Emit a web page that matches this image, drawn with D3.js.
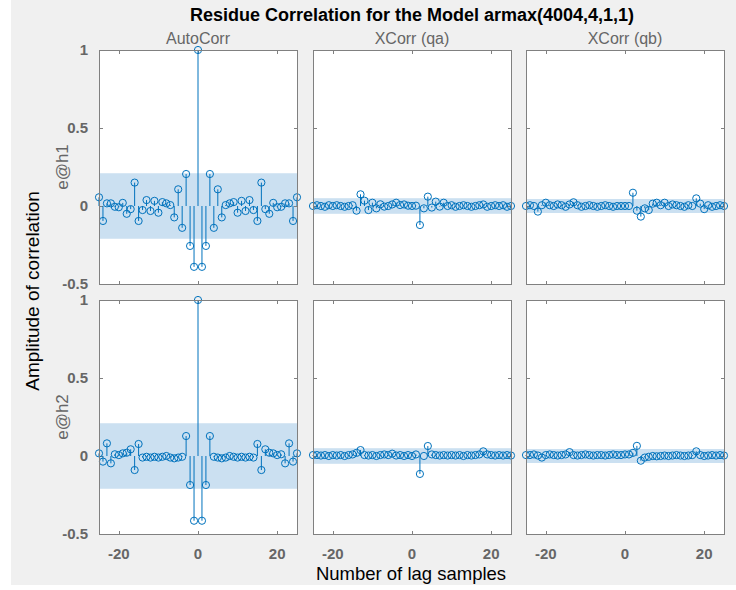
<!DOCTYPE html>
<html>
<head>
<meta charset="utf-8">
<script src="https://cdn.jsdelivr.net/npm/d3@7"></script>
<style>
  body { margin: 0; background: #fff; }
  text { font-family: "Liberation Sans", Arial, sans-serif; }
</style>
</head>
<body>
<script>
const lags = d3.range(-25, 26);
const rowNames = ["e@h1", "e@h2"];
const colNames = ["AutoCorr", "XCorr (qa)", "XCorr (qb)"];
const yTicks = [-0.5, 0, 0.5, 1];
const xTicks = [-20, 0, 20];

// residue correlations, lag -25 .. 25
const autoH1 = [0.056, -0.096, 0.017, 0.017, -0.005, -0.008, 0.02, -0.05, -0.02, 0.15, -0.096, -0.026, 0.038, -0.032, 0.033, -0.043, 0.025, 0.017, 0.006, -0.073, 0.107, -0.14, 0.205, -0.256, -0.39,
  1,
  -0.39, -0.256, 0.205, -0.14, 0.107, -0.073, 0.006, 0.017, 0.025, -0.043, 0.033, -0.032, 0.038, -0.026, -0.096, 0.15, -0.02, -0.05, 0.02, -0.008, -0.005, 0.017, 0.017, -0.096, 0.056];
const xqaH1 = [0.0, 0.005, 0.0, -0.005, 0.005, 0.0, 0.005, 0.0, -0.005, 0.0, 0.005, -0.03, 0.075, 0.034, -0.026, 0.021, -0.015, 0.011, -0.004, 0.0, 0.01, 0.021, 0.006, 0.01, 0.002,
  0.0,
  0.002, -0.122, -0.015, 0.06, -0.01, 0.028, -0.004, 0.021, 0.0, 0.005, -0.005, 0.0, 0.005, 0.0, -0.005, 0.0, 0.005, 0.01, -0.005, 0.0, 0.005, 0.0, 0.005, -0.005, 0.0];
const xqbH1 = [0.0, 0.005, 0.0, -0.036, 0.005, 0.021, 0.005, 0.0, 0.01, 0.005, -0.005, 0.01, 0.024, 0.005, -0.005, 0.0, 0.005, 0.0, -0.005, 0.0, 0.005, 0.0, -0.005, 0.0, 0.0,
  0.0,
  0.0, 0.085, -0.03, -0.068, -0.015, -0.026, 0.015, 0.021, 0.005, 0.021, 0.0, 0.01, 0.005, 0.0, -0.005, 0.005, 0.0, 0.049, 0.015, -0.02, 0.005, -0.005, 0.0, 0.005, 0.0];
const autoH2 = [0.017, -0.036, 0.081, -0.047, 0.011, 0.006, 0.017, 0.021, 0.043, -0.09, 0.077, -0.01, -0.005, -0.01, -0.005, -0.01, -0.005, 0.0, -0.01, -0.015, -0.01, -0.005, 0.128, -0.186, -0.415,
  1,
  -0.415, -0.186, 0.128, -0.005, -0.01, -0.015, -0.01, 0.0, -0.005, -0.01, -0.005, -0.01, -0.005, -0.01, 0.077, -0.09, 0.043, 0.021, 0.017, 0.006, 0.011, -0.047, 0.081, -0.036, 0.017];
const xqaH2 = [0.006, 0.006, 0.003, 0.006, 0.0, 0.006, 0.003, 0.006, 0.0, 0.006, 0.01, 0.02, 0.038, 0.006, 0.003, 0.006, 0.0, 0.006, 0.01, 0.006, 0.015, 0.003, 0.006, 0.0, 0.006,
  0.0,
  0.01, -0.115, 0.0, 0.064, 0.01, 0.006, 0.003, 0.006, 0.003, 0.006, 0.003, 0.006, 0.0, 0.006, 0.003, 0.006, 0.01, 0.03, 0.01, 0.006, 0.003, 0.006, 0.003, 0.006, 0.003];
const xqbH2 = [0.006, 0.006, 0.01, 0.003, -0.01, 0.006, 0.01, 0.006, 0.003, 0.006, 0.01, 0.025, 0.006, 0.003, 0.006, 0.01, 0.006, 0.003, 0.006, 0.006, 0.003, 0.006, 0.01, 0.006, 0.006,
  0.01,
  0.01, 0.02, 0.065, -0.03, -0.01, -0.005, 0.0, -0.002, 0.0, 0.003, 0.0, 0.003, 0.006, 0.003, 0.0, 0.003, 0.006, 0.03, 0.006, 0.0, 0.003, 0.006, 0.003, 0.006, 0.003];

// confidence band half widths per panel
const bandH1 = [0.21, 0.05, 0.045];
const bandH2 = [0.21, 0.05, 0.045];

const series = [[autoH1, xqaH1, xqbH1], [autoH2, xqaH2, xqbH2]];
const bands = [bandH1, bandH2];

const w = 736, h = 590;
const colX = [99, 313, 526], rowY = [50, 300];
const pw = 198, ph = 234;
const blue = "#0072BD";

const svg = d3.select("body").append("svg")
    .attr("width", w)
    .attr("height", h);

svg.append("rect")
    .attr("x", 11).attr("y", 0)
    .attr("width", w - 11).attr("height", 585)
    .attr("fill", "#f0f0f0");

rowY.forEach(function (y0, r) {
    colX.forEach(function (x0, c) {
        const x = d3.scaleLinear().domain([-25, 25]).range([x0, x0 + pw]);
        const y = d3.scaleLinear().domain([-0.5, 1]).range([y0 + ph, y0]);
        const vals = series[r][c];
        const g = svg.append("g");

        g.append("rect")
            .attr("x", x0 + 0.5).attr("y", y0 + 0.5)
            .attr("width", pw).attr("height", ph)
            .attr("fill", "#fff");

        g.append("rect")
            .attr("x", x0 + 1).attr("y", y(bands[r][c]))
            .attr("width", pw - 1)
            .attr("height", y(-bands[r][c]) - y(bands[r][c]))
            .attr("fill", "#cbe0f1");

        // ticks inside the box, all four sides
        g.selectAll(".xt").data(xTicks).enter().append("path")
            .attr("d", function (d) {
                const px = Math.round(x(d)) + 0.5;
                return "M" + px + "," + (y0 + 1) + "v3M" + px + "," + (y0 + ph) + "v-3";
            })
            .attr("stroke", "#808080");
        g.selectAll(".yt").data(yTicks).enter().append("path")
            .attr("d", function (d) {
                const py = Math.round(y(d)) + 0.5;
                return "M" + (x0 + 1) + "," + py + "h3M" + (x0 + pw) + "," + py + "h-3";
            })
            .attr("stroke", "#808080");

        g.selectAll(".stem").data(lags).enter().append("line")
            .attr("x1", function (d) { return x(d); })
            .attr("x2", function (d) { return x(d); })
            .attr("y1", y(0))
            .attr("y2", function (d, i) { return y(vals[i]); })
            .attr("stroke", blue)
            .attr("stroke-width", 1);

        g.selectAll(".mark").data(lags).enter().append("circle")
            .attr("cx", function (d) { return x(d); })
            .attr("cy", function (d, i) { return y(vals[i]); })
            .attr("r", 3.6)
            .attr("fill", "none")
            .attr("stroke", blue)
            .attr("stroke-width", 1);

        g.append("rect")
            .attr("x", x0 + 0.5).attr("y", y0 + 0.5)
            .attr("width", pw).attr("height", ph)
            .attr("fill", "none")
            .attr("stroke", "#808080");

        if (c === 0) {
            g.selectAll(".yl").data(yTicks).enter().append("text")
                .text(function (d) { return d; })
                .attr("x", x0 - 11)
                .attr("y", function (d) { return y(d); })
                .attr("dy", "0.35em")
                .attr("text-anchor", "end")
                .attr("font-size", "15px")
                .attr("font-weight", "bold")
                .attr("fill", "#666");
        }
        if (r === 1) {
            g.selectAll(".xl").data(xTicks).enter().append("text")
                .text(function (d) { return d; })
                .attr("x", function (d) { return x(d); })
                .attr("y", y0 + ph + 25)
                .attr("text-anchor", "middle")
                .attr("font-size", "15px")
                .attr("font-weight", "bold")
                .attr("fill", "#666");
        }
    });
});

svg.selectAll(".colName").data(colNames).enter().append("text")
    .text(function (d) { return d; })
    .attr("x", function (d, i) { return colX[i] + pw / 2; })
    .attr("y", 44)
    .attr("text-anchor", "middle")
    .attr("font-size", "16px")
    .attr("fill", "#666");

svg.selectAll(".rowName").data(rowNames).enter().append("text")
    .text(function (d) { return d; })
    .attr("transform", function (d, i) { return "translate(68," + (rowY[i] + ph / 2) + ") rotate(-90)"; })
    .attr("text-anchor", "middle")
    .attr("font-size", "17px")
    .attr("fill", "#666");

svg.append("text")
    .text("Residue Correlation for the Model armax(4004,4,1,1)")
    .attr("x", 412).attr("y", 21)
    .attr("text-anchor", "middle")
    .attr("font-size", "18px")
    .attr("font-weight", "bold")
    .attr("fill", "#000");

svg.append("text")
    .text("Number of lag samples")
    .attr("x", 411).attr("y", 580)
    .attr("text-anchor", "middle")
    .attr("font-size", "18.5px")
    .attr("fill", "#000");

svg.append("text")
    .text("Amplitude of correlation")
    .attr("transform", "translate(39,291) rotate(-90)")
    .attr("text-anchor", "middle")
    .attr("font-size", "19px")
    .attr("fill", "#000");
</script>
</body>
</html>
